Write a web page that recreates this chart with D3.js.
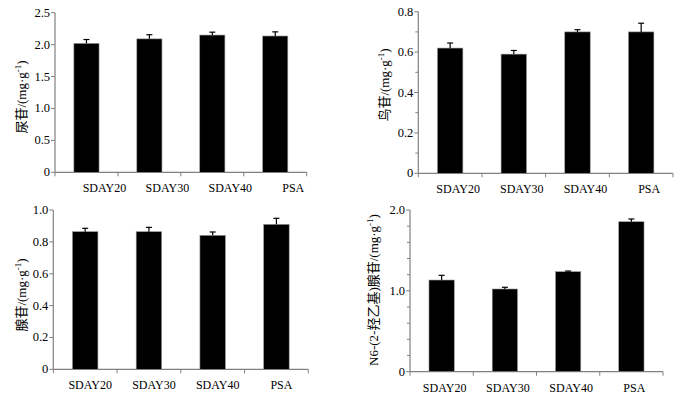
<!DOCTYPE html>
<html>
<head>
<meta charset="utf-8">
<script src="https://cdn.jsdelivr.net/npm/d3@7"></script>
<style>
  body { margin: 0; background: #fff; }
  svg { display: block; }
</style>
</head>
<body>
<svg id="chart" width="679" height="397"></svg>
<script>
const categories = ["SDAY20", "SDAY30", "SDAY40", "PSA"];

// 尿苷
const uridine = [2.02, 2.09, 2.15, 2.135];
const uridineErr = [0.06, 0.065, 0.045, 0.065];
// 鸟苷
const guanosine = [0.62, 0.59, 0.70, 0.70];
const guanosineErr = [0.025, 0.018, 0.011, 0.043];
// 腺苷
const adenosine = [0.864, 0.864, 0.841, 0.910];
const adenosineErr = [0.021, 0.027, 0.021, 0.038];
// N6-(2-羟乙基)腺苷
const hea = [1.134, 1.023, 1.237, 1.855];
const heaErr = [0.058, 0.021, 0.008, 0.034];

const majorTicks1 = [0, 0.5, 1.0, 1.5, 2.0, 2.5];
const majorTicks2 = [0, 0.2, 0.4, 0.6, 0.8];
const minorTicks2 = [0.1, 0.3, 0.5, 0.7];
const majorTicks3 = [0, 0.2, 0.4, 0.6, 0.8, 1.0];
const majorTicks4 = [0, 1.0, 2.0];
const minorTicks4 = [0.2, 0.4, 0.6, 0.8, 1.2, 1.4, 1.6, 1.8];

const svg = d3.select("#chart");
const serif = "'Liberation Serif', 'Times New Roman', 'DejaVu Serif', 'Noto Sans CJK SC', serif";
const axisColor = "#808080";
const fmt = (v) => (v === 0 ? "0" : d3.format(".1f")(v));

function panel(opt) {
  const g = svg.append("g").attr("font-family", serif);
  const x = d3.scaleBand().domain(categories).range([opt.x0, opt.x1]);
  const y = d3.scaleLinear().domain([0, opt.max]).range([opt.y0, opt.yTop]);
  const bw = x.bandwidth() * 0.4;

  // axes lines
  g.append("line")
    .attr("x1", opt.x0).attr("x2", opt.x0)
    .attr("y1", y(0)).attr("y2", y(opt.max))
    .attr("stroke", axisColor).attr("stroke-width", 1.2);
  g.append("line")
    .attr("x1", opt.x0).attr("x2", opt.x1)
    .attr("y1", y(0)).attr("y2", y(0))
    .attr("stroke", axisColor).attr("stroke-width", 1.2);

  // y ticks
  g.selectAll(".ytick").data(opt.major).enter().append("line")
    .attr("x1", opt.x0 - 4).attr("x2", opt.x0)
    .attr("y1", (d) => y(d)).attr("y2", (d) => y(d))
    .attr("stroke", axisColor);
  g.selectAll(".yminor").data(opt.minor || []).enter().append("line")
    .attr("x1", opt.x0 - 3).attr("x2", opt.x0)
    .attr("y1", (d) => y(d)).attr("y2", (d) => y(d))
    .attr("stroke", axisColor);
  g.selectAll(".ylab").data(opt.major).enter().append("text")
    .attr("x", opt.x0 - 5)
    .attr("y", (d) => y(d) + 4)
    .attr("text-anchor", "end")
    .attr("font-size", 12.5)
    .text(fmt);

  // x ticks (boundaries between bands)
  const xt = categories.map((c) => x(c) + x.bandwidth()).concat([opt.x0]);
  g.selectAll(".xtick").data(xt).enter().append("line")
    .attr("x1", (d) => d).attr("x2", (d) => d)
    .attr("y1", y(0)).attr("y2", y(0) + 4)
    .attr("stroke", axisColor);

  g.selectAll(".xlab").data(categories).enter().append("text")
    .attr("x", (d) => x(d) + x.bandwidth() / 2 + opt.labOff)
    .attr("y", y(0) + 20)
    .attr("text-anchor", "middle")
    .attr("font-size", 12)
    .text((d) => d);

  // bars
  g.selectAll(".bar").data(opt.values).enter().append("rect")
    .attr("x", (d, i) => x(categories[i]) + (x.bandwidth() - bw) / 2)
    .attr("width", bw)
    .attr("y", (d) => y(d))
    .attr("height", (d) => y(0) - y(d))
    .attr("fill", "#000")
    .attr("stroke", "#999").attr("stroke-width", 0.6);

  // error bars (upper only)
  const cx = (i) => x(categories[i]) + x.bandwidth() / 2;
  g.selectAll(".err").data(opt.values).enter().append("line")
    .attr("x1", (d, i) => cx(i)).attr("x2", (d, i) => cx(i))
    .attr("y1", (d) => y(d))
    .attr("y2", (d, i) => y(d + opt.errs[i]))
    .attr("stroke", "#000").attr("stroke-width", 1.2);
  g.selectAll(".cap").data(opt.values).enter().append("line")
    .attr("x1", (d, i) => cx(i) - 3).attr("x2", (d, i) => cx(i) + 3)
    .attr("y1", (d, i) => y(d + opt.errs[i]))
    .attr("y2", (d, i) => y(d + opt.errs[i]))
    .attr("stroke", "#000").attr("stroke-width", 1.2);

  // y title
  const t = g.append("text")
    .attr("transform", `translate(${opt.titleX},${opt.titleY}) rotate(-90)`)
    .attr("text-anchor", "middle")
    .attr("font-size", 13);
  t.append("tspan").text(opt.title + "/(mg·g");
  t.append("tspan").attr("dy", -5).attr("font-size", 9).text("-1");
  t.append("tspan").attr("dy", 5).text(")");
}

panel({
  x0: 55, x1: 306.7, y0: 172.3, yTop: 12.7, max: 2.5,
  major: majorTicks1, values: uridine, errs: uridineErr,
  labOff: 18, title: "尿苷", titleX: 26, titleY: 97
});
panel({
  x0: 418.3, x1: 673, y0: 173.3, yTop: 11.7, max: 0.8,
  major: majorTicks2, minor: minorTicks2, values: guanosine, errs: guanosineErr,
  labOff: 8, title: "鸟苷", titleX: 389, titleY: 85
});
panel({
  x0: 53.3, x1: 308.3, y0: 369.3, yTop: 210, max: 1.0,
  major: majorTicks3, values: adenosine, errs: adenosineErr,
  labOff: 5, title: "腺苷", titleX: 26, titleY: 295
});
panel({
  x0: 410, x1: 663, y0: 371.7, yTop: 210, max: 2.0,
  major: majorTicks4, minor: minorTicks4, values: hea, errs: heaErr,
  labOff: 3, title: "N6-(2-羟乙基)腺苷", titleX: 378, titleY: 290
});
</script>
</body>
</html>
